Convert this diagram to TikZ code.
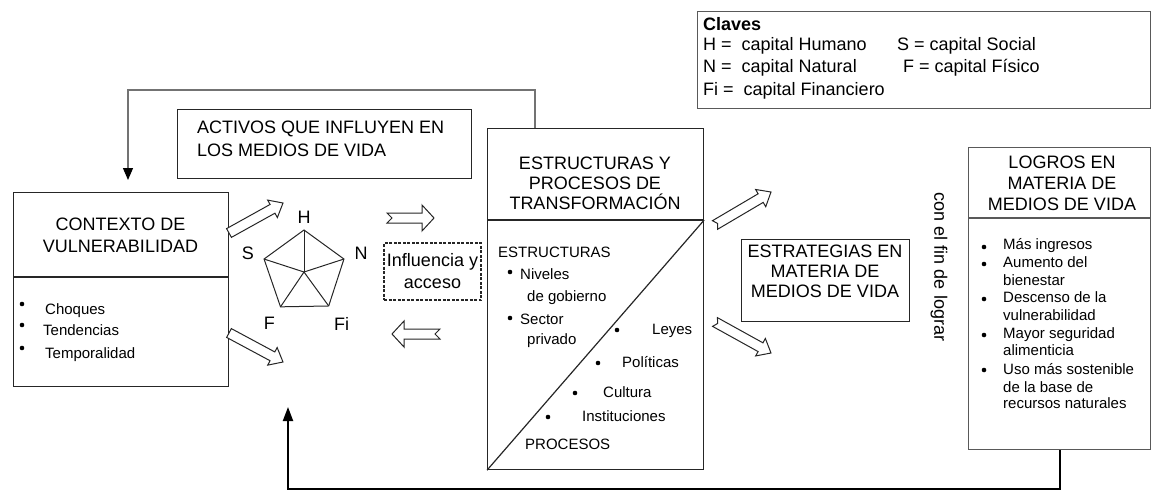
\documentclass[tikz,border=0pt]{standalone}
\usepackage{fontspec}
\setmainfont{Liberation Sans}
\usetikzlibrary{calc,arrows.meta,positioning}

\newcommand{\bigsize}{\fontsize{18}{22}\selectfont}
\newcommand{\smallsize}{\fontsize{15}{18}\selectfont}

\tikzset{
	box/.style={draw=black!85, line width=1.2pt, inner sep=0pt, anchor=north west},
	rule/.style={draw=black!85, line width=1.2pt},
	title/.style={font=\bigsize, align=center, inner sep=0pt},
	item/.style={font=\smallsize, anchor=west, inner sep=0pt, text height=11pt, text depth=3pt},
	key item/.style={font=\bigsize, anchor=west, inner sep=0pt, text height=13pt, text depth=4pt},
	bul/.style={circle, fill=black, inner sep=0pt, minimum size=4.6pt},
	hollow/.style={draw=black!85, line width=1pt, fill=white, line join=miter},
	feedback/.style={line width=2pt, -{Triangle[length=14pt,width=10pt]}}
}
% hollow block arrow: notch, half head width, tail, tip
\newcommand{\hollowarr}[4]{%
	\coordinate (hb) at ($(#4)!12pt!(#3)$);
	\draw[hollow] ($(#3)!5pt!90:(#4)$) -- ($(hb)!5pt!90:(#4)$) -- ($(hb)!#2!90:(#4)$) -- (#4)
		-- ($(hb)!#2!-90:(#4)$) -- ($(hb)!5pt!-90:(#4)$) -- ($(#3)!5pt!-90:(#4)$) -- ($(#3)!#1!(#4)$) -- cycle;}

\begin{document}
\begin{tikzpicture}[x=1pt, y=-1pt]
	\useasboundingbox (0,0) rectangle (1152,491);

	% claves
	\node[box, draw=black!65, minimum width=453pt, minimum height=97pt] (key) at (697,11) {};
	\node[key item] (keyC) at (703,26) {\textbf{Claves}};
	\node[key item] (keyH) at (703,46) {H =\ \ capital Humano};
	\node[key item] (keyN) at (703,68) {N =\ \ capital Natural};
	\node[key item] (keyFi) at (703,91) {Fi =\ \ capital Financiero};
	\node[key item] (keyS) at (897,46) {S = capital Social};
	\node[key item] (keyF) at (903,68) {F = capital Físico};

	% contexto de vulnerabilidad
	\node[box, minimum width=215pt, minimum height=194pt] (ctx) at (13,192) {};
	\draw[rule] (ctx.west |- 0,277) -- (ctx.east |- 0,277);
	\node[title] (ctxT) at (120.5,235) {CONTEXTO DE\\VULNERABILIDAD};
	\foreach \t/\tx/\ty [count=\i] in {Choques/45/310, Tendencias/43/331, Temporalidad/45/354} {
		\node[bul] (cb\i) at (22,{\ty-6}) {};
		\node[item] (ci\i) at (\tx,\ty) {\t};
	}

	% activos
	\node[box, minimum width=294pt, minimum height=69pt] (actv) at (177,109) {};
	\node[title, align=left, anchor=west, font=\fontsize{18}{23}\selectfont] (actvT) at (197,138.5)
		{ACTIVOS QUE INFLUYEN EN\\LOS MEDIOS DE VIDA};

	% pentagono de activos
	\coordinate (pc) at (304,272);
	\foreach \v/\a/\r in {H/90/55pt, N/18/60pt, Fi/-54/64pt, F/-124/62pt, S/162/59pt} {
		\coordinate (p\v) at ($(pc)+(\a:42pt)$);
		\node[font=\bigsize, inner sep=0pt] (l\v) at ($(pc)+(\a:\r)$) {\v};
	}
	\draw[rule, line width=1pt] (pH) -- (pN) -- (pFi) -- (pF) -- (pS) -- cycle;
	\foreach \v in {H,N,Fi,F,S} \draw[rule, line width=1pt] (pc) -- (p\v);

	% influencia y acceso
	\node[box, dash pattern=on 3pt off 1.5pt, line width=2pt, minimum width=97pt, minimum height=57pt,
		font=\bigsize, align=center] (infl) at (383,242) {Influencia y\\acceso};

	% estructuras y procesos
	\node[box, minimum width=216pt, minimum height=341pt] (estr) at (487,128) {};
	\draw[rule] (estr.west |- 0,220) -- (estr.east |- 0,220);
	\draw[rule] (estr.south west) -- (estr.east |- 0,220);
	\node[title, font=\fontsize{18}{20}\selectfont] (estrT) at (595,183)
		{ESTRUCTURAS Y\\PROCESOS DE\\TRANSFORMACIÓN};
	\node[item] (estrS) at (498,253) {ESTRUCTURAS};
	\foreach \t/\tx/\ty [count=\i] in {Niveles/520/275, de gobierno/527/297, Sector/520/320, privado/527/340}
		\node[item] (es\i) at (\tx,\ty) {\t};
	\node[bul] (esb1) at (510,272) {};
	\node[bul] (esb2) at (510,318) {};
	\foreach \bx/\tx/\ty/\t [count=\i] in {617/652/330/Leyes, 598/622/363/Políticas,
			575/603/393/Cultura, 548/582/417/Instituciones} {
		\node[bul] (epb\i) at (\bx,\ty) {};
		\node[item] (ep\i) at (\tx,\ty) {\t};
	}
	\node[item] (estrP) at (525,445) {PROCESOS};

	% estrategias
	\node[box, minimum width=168pt, minimum height=82pt] (estg) at (741,239) {};
	\node[title, font=\fontsize{18}{20}\selectfont] (estgT) at (825,271)
		{ESTRATEGIAS EN\\MATERIA DE\\MEDIOS DE VIDA};
	\node[font=\bigsize, rotate=-90, inner sep=0pt] (fin) at (939,267) {con el fin de lograr};

	% logros
	\node[box, draw=black!65, minimum width=182pt, minimum height=302pt] (logr) at (968,147) {};
	\draw[rule, draw=black!65] (logr.west |- 0,218) -- (logr.east |- 0,218);
	\node[title, font=\fontsize{18}{21}\selectfont] (logrT) at (1062,183)
		{LOGROS EN\\MATERIA DE\\MEDIOS DE VIDA};
	\foreach \by [count=\i] in {247,264,299,335,370}
		\node[bul] (lb\i) at (984,\by) {};
	\foreach \t/\ty [count=\i] in {Más ingresos/245, Aumento del/263, bienestar/281, Descenso de la/298,
			vulnerabilidad/316, Mayor seguridad/334, alimenticia/351, Uso más sostenible/370,
			de la base de/388, recursos naturales/404}
		\node[item] (li\i) at (1003,\ty) {\t};

	% flechas huecas
	\coordinate (ht1) at (229,233); \coordinate (hp1) at (283,203);
	\coordinate (ht2) at (229,333); \coordinate (hp2) at (283,362);
	\coordinate (ht3) at (387,218); \coordinate (hp3) at (434,218);
	\coordinate (ht4) at (440,334); \coordinate (hp4) at (392,334);
	\coordinate (ht5) at (715,225); \coordinate (hp5) at (771,192);
	\coordinate (ht6) at (715,322); \coordinate (hp6) at (771,353);
	\foreach \i/\n/\w in {1/0pt/10pt, 2/0pt/10pt, 3/5pt/13pt, 4/5pt/13pt, 5/3pt/10pt, 6/3pt/10pt}
		\hollowarr{\n}{\w}{ht\i}{hp\i};

	% realimentacion
	\coordinate (fbTop) at (535,90);
	\coordinate (fbLeft) at (128,90);
	\coordinate (fbEnd) at (128,180);
	\draw[line width=1.2pt, draw=black!55, -{Triangle[length=12pt,width=10pt,color=black]}]
		(estr.north -| fbTop) -- (fbTop) -- (fbLeft) -- (fbEnd);
	\coordinate (fbBot) at (288,489);
	\coordinate (fbUp) at (288,407);
	\draw[feedback] (logr.south) |- (fbBot) -- (fbUp);
\end{tikzpicture}
\end{document}
